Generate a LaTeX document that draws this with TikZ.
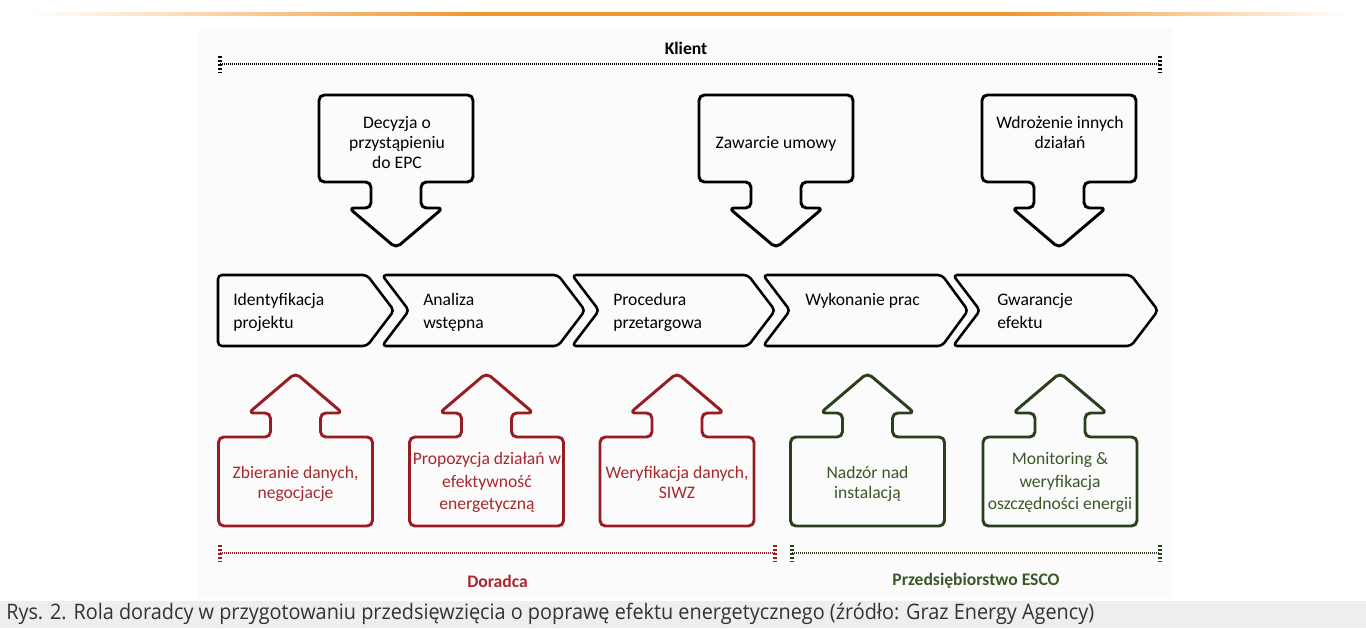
\documentclass[tikz,border=0pt]{standalone}
\usepackage{fontspec}
\setmainfont{Carlito}
\newfontfamily\capfont[FakeStretch=0.93]{Open Sans}
\definecolor{advred}{HTML}{981C21}
\definecolor{advredtext}{HTML}{A8282D}
\definecolor{escogreen}{HTML}{2A401D}
\definecolor{escogreentext}{HTML}{3A5827}
\definecolor{barorange}{HTML}{F2952B}
\definecolor{capgray}{HTML}{EDEEEE}
\pgfdeclarehorizontalshading{orangebar}{100bp}{color(0bp)=(white); color(25bp)=(white); color(42bp)=(barorange); color(62bp)=(barorange); color(75bp)=(white); color(100bp)=(white)}
\tikzset{
  calltext/.style={font=\fontsize{13.2}{15}\selectfont, align=center, inner sep=0pt, anchor=north},
  chevtext/.style={font=\fontsize{13.2}{17.25}\selectfont, align=left, inner sep=0pt, anchor=north west},
  roletext/.style={font=\bfseries\fontsize{13.2}{15}\selectfont, inner sep=0pt},
  chev/.style={draw=black, line width=1.9pt, rounded corners=3pt, line join=round},
  callout/.style={line width=2.2pt, rounded corners=4pt, line join=round},
  dotline/.style={line width=2pt, dash pattern=on 0.9pt off 0.6pt},
  dotend/.style={line width=2.4pt, dash pattern=on 1.5pt off 1.5pt},
  downcall/.pic={
    \draw[callout,pic actions] (-77,0) -- (77,0) -- (77,87) -- (25,87) -- (25,113) -- (47,113)
      -- (0,153) -- (-47,113) -- (-25,113) -- (-25,87) -- (-77,87) -- cycle;},
  upcall/.pic={
    \draw[callout,pic actions] (-77,89) -- (77,89) -- (77,0) -- (25,0) -- (25,-24) -- (47,-24)
      -- (0,-64) -- (-47,-24) -- (-25,-24) -- (-25,0) -- (-77,0) -- cycle;}
}
\begin{document}
\begin{tikzpicture}[x=0.75pt,y=-0.75pt]
  \useasboundingbox (0,0) rectangle (1366,628);
  \fill[white] (0,0) rectangle (1366,628);
  % page frame
  \shade[shading=orangebar] (30,12.5) rectangle (1350,15.5);
  \fill[black!1.5] (198,28) rectangle (1172,598);
  \fill[capgray] (0,601) rectangle (1366,628);

  % client
  \node[roletext] (klient) at (686,48) {Klient};
  \draw[dotline] (220,64) -- (1160,64);
  \draw[dotend] (220,56) -- (220,73);
  \draw[dotend] (1160,56) -- (1160,73);

  % client decisions
  \pic at (396,95) {downcall};
  \pic at (776,95) {downcall};
  \pic at (1059,95) {downcall};
  \node[calltext] (decyzja) at (397,116) {Decyzja o\\przystąpieniu\\do EPC};
  \node[calltext] (umowa) at (776,136) {Zawarcie umowy};
  \node[calltext] (wdrozenie) at (1060,116) {Wdrożenie innych\\działań};

  % process chain
  \draw[chev] (218,275) -- (367,275) -- (394,310.5) -- (367,346) -- (218,346) -- cycle;
  \draw[chev] (382,275) -- (558,275) -- (585,310.5) -- (558,346) -- (382,346) -- (409,310.5) -- cycle;
  \draw[chev] (572,275) -- (748,275) -- (775,310.5) -- (748,346) -- (572,346) -- (599,310.5) -- cycle;
  \draw[chev] (763,275) -- (942,275) -- (968,310.5) -- (942,346) -- (763,346) -- (790,310.5) -- cycle;
  \draw[chev] (953,275) -- (1131,275) -- (1158,310.5) -- (1131,346) -- (953,346) -- (980,310.5) -- cycle;
  \node[chevtext] (ident) at (233,293) {Identyfikacja\\projektu};
  \node[chevtext] (analiza) at (423,293) {Analiza\\wstępna};
  \node[chevtext] (procedura) at (613,293) {Procedura\\przetargowa};
  \node[chevtext] (wykonanie) at (805,293) {Wykonanie prac};
  \node[chevtext] (gwarancje) at (997,293) {Gwarancje\\efektu};

  % advisor and ESCO tasks
  \pic[draw=advred] at (295.5,437) {upcall};
  \pic[draw=advred] at (486.5,437) {upcall};
  \pic[draw=advred] at (677,437) {upcall};
  \pic[draw=escogreen] at (867.5,437) {upcall};
  \pic[draw=escogreen] at (1060,437) {upcall};
  \node[calltext, text=advredtext] (zbieranie) at (295.5,466) {Zbieranie danych,\\negocjacje};
  \node[calltext, text=advredtext, font=\fontsize{13.2}{17}\selectfont] (propozycja) at (487,452) {Propozycja działań w\\efektywność\\energetyczną};
  \node[calltext, text=advredtext] (weryfikacja) at (677,466) {Weryfikacja danych,\\SIWZ};
  \node[calltext, text=escogreentext] (nadzor) at (867.5,466) {Nadzór nad\\instalacją};
  \node[calltext, text=escogreentext, font=\fontsize{13.2}{17}\selectfont] (monitoring) at (1060,452) {Monitoring \&\\weryfikacja\\oszczędności energii};

  % roles
  \draw[dotline, advred] (220,553) -- (775,553);
  \draw[dotend, advred] (220,545) -- (220,562);
  \draw[dotend, advred] (775,545) -- (775,562);
  \draw[dotline, escogreen] (792,553) -- (1160,553);
  \draw[dotend, escogreen] (792,545) -- (792,562);
  \draw[dotend, escogreen] (1160,545) -- (1160,562);
  \node[roletext, text=advredtext] (doradca) at (497.5,581) {Doradca};
  \node[roletext, text=escogreentext] (esco) at (976,581) {Przedsiębiorstwo ESCO};

  % caption
  \node[anchor=west, inner sep=0pt, text=black!80, font=\capfont\fontsize{16}{18}\selectfont] (caption) at (6,614)
    {Rys. 2. Rola doradcy w przygotowaniu przedsięwzięcia o poprawę efektu energetycznego (źródło: Graz Energy Agency)};
\end{tikzpicture}
\end{document}
